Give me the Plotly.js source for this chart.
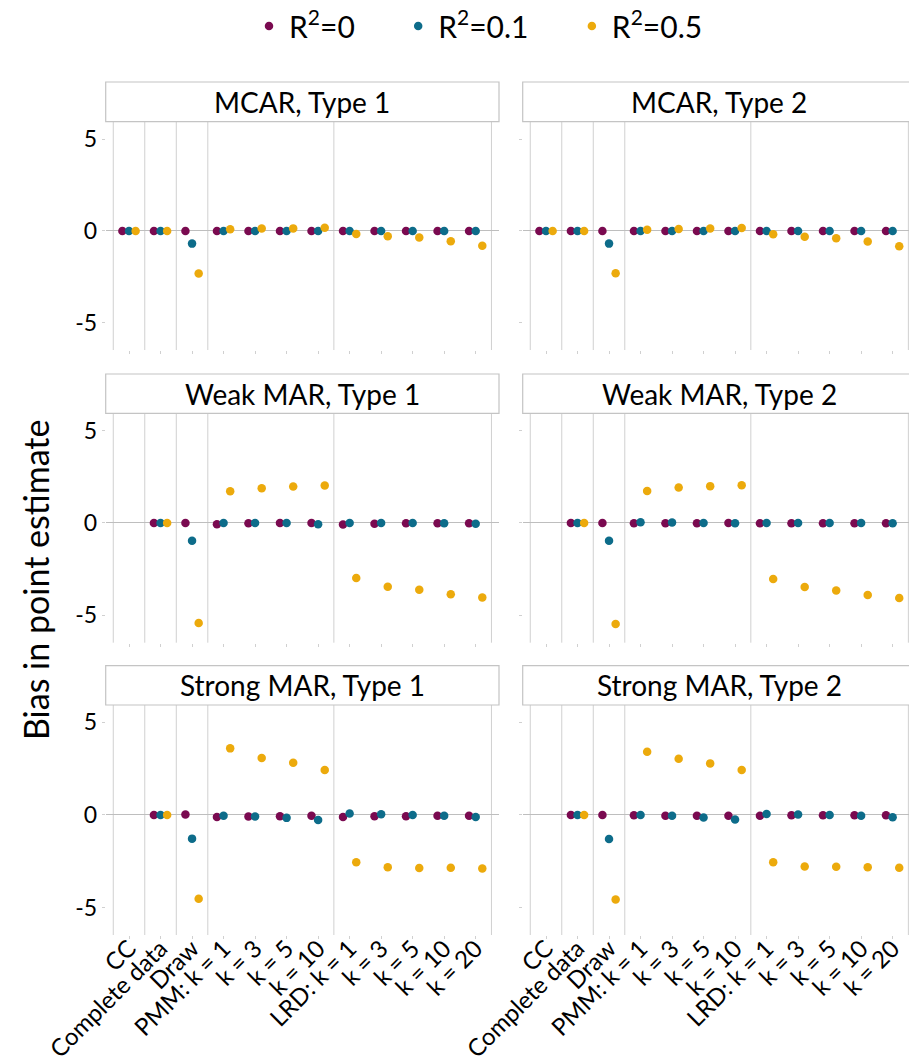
<!DOCTYPE html>
<html>
<head>
<meta charset="utf-8">
<script src="https://cdn.plot.ly/plotly-3.0.1.min.js"></script>
<style>html,body{margin:0;padding:0;background:#fff;}#chart{width:909px;height:1062px;}</style>
</head>
<body>
<div id="chart"></div>
<script>
// ---- Data ----
const methodKeys = ["CC","Complete","Draw","PMM1","PMM3","PMM5","PMM10","LRD1","LRD3","LRD5","LRD10","LRD20"];
const tickLabels = ["CC","Complete data","Draw","PMM: k = 1","k = 3","k = 5","k = 10","LRD: k = 1","k = 3","k = 5","k = 10","k = 20"];
const seriesNames = ["R<sup>2</sup>=0","R<sup>2</sup>=0.1","R<sup>2</sup>=0.5"];
const panelTitles = ["MCAR, Type 1","MCAR, Type 2","Weak MAR, Type 1","Weak MAR, Type 2","Strong MAR, Type 1","Strong MAR, Type 2"];

const mcar1_r0  = [0,0,0,0,0,0,0,0,0,0,0,0];
const mcar1_r01 = [0,0,-0.69,0,0,0,0,0,0,0,0,0];
const mcar1_r05 = [0,0,-2.32,0.09,0.13,0.14,0.18,-0.16,-0.29,-0.36,-0.56,-0.80];

const mcar2_r0  = [0,0,0,0,0,0,0,0,0,0,0,0];
const mcar2_r01 = [0,0,-0.69,0,0,0,0,0,0,0,0,0];
const mcar2_r05 = [0,0,-2.30,0.07,0.11,0.13,0.16,-0.18,-0.31,-0.40,-0.58,-0.83];

const weak1_r0  = [null,0,0,-0.07,-0.02,0,-0.01,-0.09,-0.04,-0.02,-0.02,-0.02];
const weak1_r01 = [null,0,-0.97,0,0,0,-0.07,0,0,0,-0.02,-0.04];
const weak1_r05 = [null,0,-5.42,1.71,1.88,1.97,2.02,-2.98,-3.45,-3.61,-3.86,-4.04];

const weak2_r0  = [null,0,0,-0.02,-0.02,-0.02,0,-0.02,-0.02,-0.02,-0.02,-0.02];
const weak2_r01 = [null,0,-0.97,0.04,0.02,0,-0.02,0,0,0,0,-0.02];
const weak2_r05 = [null,0,-5.47,1.73,1.91,1.99,2.04,-3.03,-3.47,-3.66,-3.90,-4.06];

const strong1_r0  = [null,0,0.02,-0.11,-0.09,-0.07,-0.04,-0.11,-0.07,-0.07,-0.04,-0.04];
const strong1_r01 = [null,0,-1.28,-0.04,-0.09,-0.16,-0.27,0.07,0.04,0,-0.04,-0.11];
const strong1_r05 = [null,0,-4.53,3.59,3.07,2.82,2.42,-2.56,-2.82,-2.87,-2.85,-2.89];

const strong2_r0  = [null,0,0,-0.02,-0.04,-0.04,-0.04,-0.04,-0.02,-0.02,-0.02,-0.02];
const strong2_r01 = [null,0,-1.30,0,-0.05,-0.14,-0.25,0.05,0.02,0,-0.05,-0.13];
const strong2_r05 = [null,0,-4.57,3.41,3.03,2.78,2.42,-2.56,-2.78,-2.80,-2.82,-2.85];

const yTickVals = [-5,0,5];
const yTickText = ["-5","0","5"];
const boundaries = [-0.5,0.5,1.5,2.5,6.5,11.5];

// ---- Build ----
const panelSeries = [
  [mcar1_r0, mcar1_r01, mcar1_r05],
  [mcar2_r0, mcar2_r01, mcar2_r05],
  [weak1_r0, weak1_r01, weak1_r05],
  [weak2_r0, weak2_r01, weak2_r05],
  [strong1_r0, strong1_r01, strong1_r05],
  [strong2_r0, strong2_r01, strong2_r05]
];
const colors = ["#7A0A50","#0D6C8A","#ECAA0C"];
const legendPad = ["\u00a0\u00a0\u00a0\u00a0\u00a0", "\u00a0\u00a0\u00a0\u00a0\u00a0", ""];
const W = 909, H = 1062;
const colDom = [[105.7/W, 499/W],[522.7/W, 1.0]];
const rowPx = [[122,350],[413.3,642.7],[705,935]];
const stripPx = [[82,121.7],[374,413.3],[665.7,705]];
const FONT = "Lato, 'Open Sans', sans-serif";

const traces = [];
const layout = {
  width: W, height: H,
  margin: {l:0,r:0,t:0,b:0},
  paper_bgcolor: "#fff", plot_bgcolor: "#fff",
  font: {family: FONT, color: "#000"},
  scattermode: "group",
  scattergap: 0.37,
  showlegend: true,
  legend: {orientation: "h", x: 249/W, xanchor: "left", y: 1, yanchor: "top",
           font: {size: 30, family: FONT}, itemwidth: 30, tracegroupgap: 0},
  shapes: [], annotations: []
};

panelSeries.forEach((ser, p) => {
  const r = Math.floor(p/2), c = p % 2;
  const idx = p + 1;
  const xa = idx === 1 ? "x" : "x" + idx;
  const ya = idx === 1 ? "y" : "y" + idx;
  const xKey = idx === 1 ? "xaxis" : "xaxis" + idx;
  const yKey = idx === 1 ? "yaxis" : "yaxis" + idx;
  layout[xKey] = {
    domain: colDom[c], anchor: ya, type: "category",
    categoryorder: "array", categoryarray: methodKeys,
    tickmode: "array", tickvals: methodKeys, ticktext: tickLabels,
    tickangle: -45, showticklabels: r === 2,
    tickfont: {size: 24, family: FONT, color: "#000"},
    ticklabelstandoff: -14,
    range: c === 0 ? [-0.74, 11.74] : [-0.74, 11.52],
    showgrid: false, zeroline: false, showline: false,
    ticks: "outside", ticklen: 3, tickcolor: "#D0D0D0", tickwidth: 1, fixedrange: true
  };
  layout[yKey] = {
    domain: [1 - rowPx[r][1]/H, 1 - rowPx[r][0]/H], anchor: xa,
    range: [-6.48, 5.93],
    tickmode: "array", tickvals: yTickVals, ticktext: yTickText,
    showticklabels: c === 0,
    tickfont: {size: 23, family: FONT, color: "#000"},
    showgrid: false, zeroline: true, zerolinecolor: "#BEBEBE", zerolinewidth: 1,
    showline: false, ticks: "outside", ticklen: 3, tickcolor: "#D0D0D0", tickwidth: 1, fixedrange: true
  };
  boundaries.forEach(b => {
    layout.shapes.push({type: "line", xref: xa, yref: ya + " domain", x0: b, x1: b, y0: 0, y1: 1,
      line: {color: "#D0D0D0", width: 1}, layer: "below"});
  });
  // strip
  layout.shapes.push({type: "rect", xref: "paper", yref: "paper",
    x0: colDom[c][0], x1: c === 0 ? colDom[c][1] : 1.01,
    y0: 1 - stripPx[r][1]/H, y1: 1 - stripPx[r][0]/H,
    fillcolor: "#fff", line: {color: "#C4C4C4", width: 1.2}});
  layout.annotations.push({xref: "paper", yref: "paper",
    x: c === 0 ? (colDom[c][0]+colDom[c][1])/2 : (522.7 + 393.3/2)/W,
    y: 1 - (stripPx[r][0]+stripPx[r][1])/2/H,
    text: panelTitles[p], showarrow: false, xanchor: "center", yanchor: "middle",
    font: {size: 28, family: FONT, color: "#000"}});
  ser.forEach((vals, s) => {
    traces.push({
      type: "scatter", mode: "markers", x: methodKeys, y: vals,
      xaxis: xa, yaxis: ya, name: seriesNames[s] + legendPad[s], legendgroup: "s" + s,
      showlegend: p === 0, offsetgroup: "s" + s,
      marker: {color: colors[s], size: 8.5, line: {width: 0}},
      hoverinfo: "skip", cliponaxis: false
    });
  });
});

layout.annotations.push({xref: "paper", yref: "paper", x: 35/W, y: 1 - 580/H,
  text: "Bias in point estimate", textangle: -90, showarrow: false,
  xanchor: "center", yanchor: "middle", font: {size: 34, family: FONT, color: "#000"}});

Plotly.newPlot("chart", traces, layout, {displayModeBar: false, staticPlot: true});
</script>
</body>
</html>
